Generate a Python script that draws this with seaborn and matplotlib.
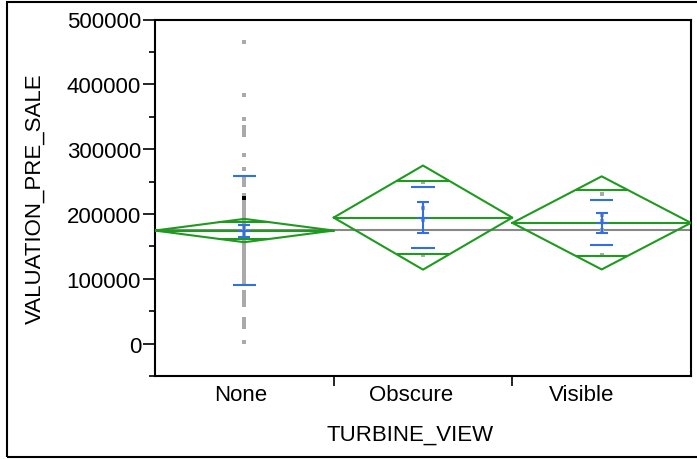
import numpy as np
import pandas as pd
import matplotlib
matplotlib.use("Agg")
import matplotlib.pyplot as plt
from matplotlib.patches import Rectangle
from matplotlib.ticker import MultipleLocator
from matplotlib.transforms import ScaledTranslation
import seaborn as sns

# ─── DATA ───────────────────────────────────────────────────────────────────────
views = ["None", "Obscure", "Visible"]

none_vals = [
    465000, 383000, 347000, 334000, 330000, 326000, 322000, 291000, 270000,
    257000, 253000, 249000, 244000,
    229000, 224000, 221000, 218000, 215000, 212000, 209000, 206000, 203000,
    200000, 197000, 194000, 191000, 188000, 185000, 182000, 179000, 176000,
    173000, 170000, 167000, 164000, 161000, 158000, 155000, 152000, 149000,
    146000, 143000, 140000, 137000, 134000, 131000,
    127000, 124000, 121000, 118000, 115000, 112000, 109000, 106000, 103000,
    96000, 92000,
    80000, 77000, 73000, 70000, 66000, 63000, 60000,
    38000, 34000, 30000, 26000,
    2000,
]
none_dark = [225000]          # the darker (overlapping) point in the None column
obscure_vals = [249000, 209000, 190000, 136000]
visible_vals = [231000, 199000, 189000, 176000, 136000]

group_means = [174400, 194400, 186200]
group_sd = [83800, 47000, 34700]
group_se = [9300, 23500, 15500]
ci_half = [18000, 80300, 71800]
grand_mean = 175000

GREEN = "#1E9A1E"
BLUE = "#2F6FE8"
GRAY_PT = "#AAAAAA"
FS = 16

df = pd.DataFrame({
    "TURBINE_VIEW": ["None"] * len(none_vals) + ["Obscure"] * len(obscure_vals)
                    + ["Visible"] * len(visible_vals),
    "VALUATION_PRE_SALE": none_vals + obscure_vals + visible_vals,
})
df_dark = pd.DataFrame({"TURBINE_VIEW": ["None"] * len(none_dark),
                        "VALUATION_PRE_SALE": none_dark})

sns.set_style("white")
plt.rcParams["font.family"] = ["Liberation Sans", "DejaVu Sans"]
plt.rcParams.update({"text.color": "black", "axes.labelcolor": "black",
                     "xtick.color": "black", "ytick.color": "black"})

fig = plt.figure(figsize=(6.97, 4.60), dpi=100)
ax = fig.add_axes([155 / 697, 1 - 377 / 460, 536 / 697, 356.5 / 460])

# ─── raw points ─────────────────────────────────────────────────────────────────
sns.stripplot(data=df, x="TURBINE_VIEW", y="VALUATION_PRE_SALE", order=views,
              jitter=False, marker="s", size=2.3, color=GRAY_PT, linewidth=0,
              ax=ax, zorder=2)
sns.stripplot(data=df_dark, x="TURBINE_VIEW", y="VALUATION_PRE_SALE", order=views,
              jitter=False, marker="s", size=2.3, color="black", linewidth=0,
              ax=ax, zorder=2)

# grand mean
ax.axhline(grand_mean, color="#888888", lw=1.5, zorder=1)

# ─── means diamonds + std dev / std err marks ───────────────────────────────────
w_ov = 0.5 * (1 - 1 / np.sqrt(2))
for i, (m, sd, se, h) in enumerate(zip(group_means, group_sd, group_se, ci_half)):
    ax.plot([i - 0.5, i, i + 0.5, i, i - 0.5], [m, m + h, m, m - h, m],
            color=GREEN, lw=1.5, zorder=3)
    ax.plot([i - 0.5, i + 0.5], [m, m], color=GREEN, lw=1.5, zorder=3)
    d = h / np.sqrt(2)
    ax.hlines([m - d, m + d], i - w_ov, i + w_ov, color=GREEN, lw=1.5, zorder=3)
    ax.hlines([m - sd, m + sd], i - 0.065, i + 0.065, color=BLUE, lw=1.5, zorder=4)
    ax.vlines(i, m - se, m + se, color=BLUE, lw=1.5, zorder=4)
    ax.hlines([m - se, m, m + se], i - 0.034, i + 0.034, color=BLUE, lw=1.5, zorder=4)

# ─── axes ───────────────────────────────────────────────────────────────────────
ax.set_xlim(-0.5, 2.5)
ax.set_ylim(-50000, 500000)
ax.set_yticks(range(0, 500001, 100000))
ax.yaxis.set_minor_locator(MultipleLocator(50000))
ax.set_yticklabels([str(v) for v in range(0, 500001, 100000)])
ax.tick_params(axis="y", which="major", length=9, width=1.2, pad=1,
               labelsize=FS, direction="out", left=True)
ax.tick_params(axis="y", which="minor", length=4.5, width=1.2, direction="out", left=True)

ax.set_xticks([0, 1, 2])
ax.set_xticklabels(views)
ax.set_xticks([0.5, 1.5], minor=True)
ax.tick_params(axis="x", which="major", length=0, pad=6, labelsize=FS)
ax.tick_params(axis="x", which="minor", length=7, width=1.2, direction="out", bottom=True)
for lbl, dx in zip(ax.get_xticklabels(), [-4, -12, -20]):
    lbl.set_transform(lbl.get_transform() + ScaledTranslation(dx / 100, 0, fig.dpi_scale_trans))

for sp in ax.spines.values():
    sp.set_visible(True)
    sp.set_linewidth(1.5)
    sp.set_color("black")

ax.set_xlabel("TURBINE_VIEW", fontsize=FS)
ax.set_ylabel("VALUATION_PRE_SALE", fontsize=FS)
ax.xaxis.set_label_coords(0.476, -0.133)
ax.yaxis.set_label_coords(-0.205, 0.5)

# outer frame of the report
fig.add_artist(Rectangle((7 / 697, 2 / 460), 1.0, 455 / 460, transform=fig.transFigure,
                         fill=False, lw=1.5, ec="black"))

fig.savefig("out.png", dpi=100)
